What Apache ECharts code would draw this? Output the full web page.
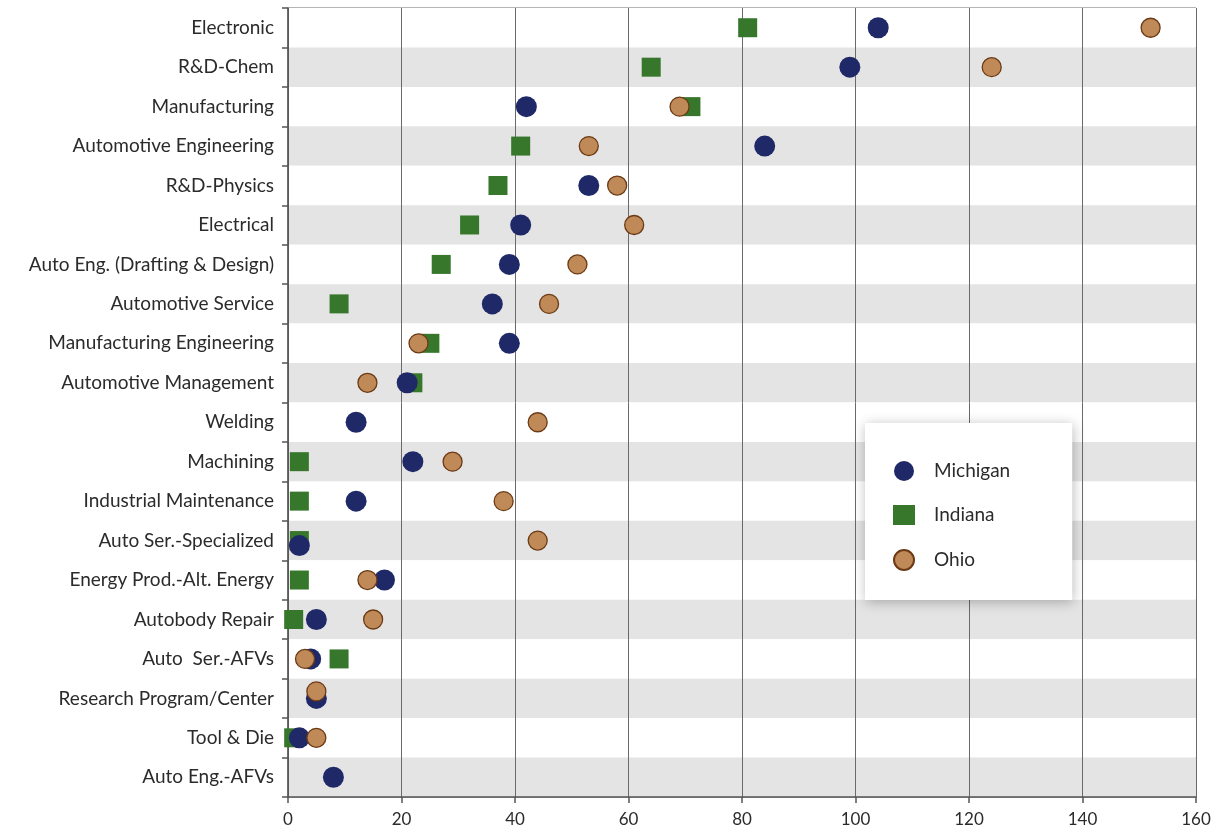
<!DOCTYPE html>
<html>
<head>
<meta charset="utf-8">
<script src="https://cdn.jsdelivr.net/npm/echarts@6/dist/echarts.min.js"></script>
<style>
  html, body { margin: 0; padding: 0; background: #ffffff; }
  #chart { width: 1216px; height: 840px; }
</style>
</head>
<body>
<div id="chart"></div>
<script>
// Programs, listed top to bottom
const categories = [
  'Electronic', 'R&D-Chem', 'Manufacturing', 'Automotive Engineering', 'R&D-Physics',
  'Electrical', 'Auto Eng. (Drafting & Design)', 'Automotive Service',
  'Manufacturing Engineering', 'Automotive Management', 'Welding', 'Machining',
  'Industrial Maintenance', 'Auto Ser.-Specialized', 'Energy Prod.-Alt. Energy',
  'Autobody Repair', 'Auto  Ser.-AFVs', 'Research Program/Center', 'Tool & Die',
  'Auto Eng.-AFVs'
];

// Counts per state (null = no entry)
const michigan = [104, 99, 42, 84, 53, 41, 39, 36, 39, 21, 12, 22, 12, 2, 17, 5, 4, 5, 2, 8];
const indiana  = [81, 64, 71, 41, 37, 32, 27, 9, 25, 22, null, 2, 2, 2, 2, 1, 9, null, 1, null];
const ohio     = [152, 124, 69, 53, 58, 61, 51, 46, 23, 14, 44, 29, 38, 44, 14, 15, 3, 5, 5, null];

const xTicks = [0, 20, 40, 60, 80, 100, 120, 140, 160];

// Small vertical nudges (px) so coincident markers stay visible
const nudges = {
  Michigan: { 'Auto Ser.-Specialized': 5 },
  Ohio: { 'Research Program/Center': -7 }
};

const FONT = 'Lato';

function toPoints(values, name) {
  const pts = [];
  const n = nudges[name] || {};
  values.forEach((v, i) => {
    if (v === null) return;
    const cat = categories[i];
    const item = { value: [v, cat] };
    if (n[cat]) item.symbolOffset = [0, n[cat]];
    pts.push(item);
  });
  return pts;
}

const chart = echarts.init(document.getElementById('chart'), null, { renderer: 'canvas' });

chart.setOption({
  backgroundColor: '#ffffff',
  animation: false,
  grid: {
    left: 288, right: 20, top: 8, bottom: 43,
    show: true, borderColor: '#6a6a6a', borderWidth: 1
  },
  legend: {
    data: ['Michigan', 'Indiana', 'Ohio'],
    orient: 'vertical',
    left: 865, top: 423,
    padding: [38, 62, 29, 28],
    itemGap: 24,
    itemWidth: 22, itemHeight: 20,
    backgroundColor: '#ffffff',
    shadowBlur: 12, shadowColor: 'rgba(0,0,0,0.28)', shadowOffsetX: 1, shadowOffsetY: 2,
    textStyle: { fontFamily: FONT, fontSize: 19, color: '#2b2b2b', padding: [0, 0, 0, 14] }
  },
  xAxis: {
    type: 'value',
    min: xTicks[0], max: xTicks[xTicks.length - 1], interval: 20,
    axisLine: { show: true, lineStyle: { color: '#555555', width: 1.5 } },
    axisTick: { show: true, length: 6, lineStyle: { color: '#555555', width: 1.5 } },
    axisLabel: { fontFamily: FONT, fontSize: 17, color: '#2b2b2b', margin: 14 },
    splitLine: { show: true, lineStyle: { color: '#6a6a6a', width: 1 } }
  },
  yAxis: {
    type: 'category',
    data: categories,
    inverse: true,
    boundaryGap: true,
    axisLine: { show: true, lineStyle: { color: '#555555', width: 1.5 } },
    axisTick: { show: true, length: 6, lineStyle: { color: '#555555', width: 1.5 } },
    axisLabel: { fontFamily: FONT, fontSize: 19, color: '#2b2b2b', margin: 14, padding: [6, 0, 0, 0] },
    splitLine: { show: false },
    splitArea: { show: true, areaStyle: { color: ['#ffffff', '#e4e4e4'] } }
  },
  series: [
    {
      name: 'Indiana', type: 'scatter', symbol: 'rect', symbolSize: 19,
      itemStyle: { color: '#36772b', opacity: 1 },
      data: toPoints(indiana, 'Indiana'), z: 3
    },
    {
      name: 'Michigan', type: 'scatter', symbol: 'circle', symbolSize: 21,
      itemStyle: { color: '#1f2968', opacity: 1 },
      data: toPoints(michigan, 'Michigan'), z: 4
    },
    {
      name: 'Ohio', type: 'scatter', symbol: 'circle', symbolSize: 19,
      itemStyle: { color: '#c08a58', borderColor: '#6b3a14', borderWidth: 1.3, opacity: 1 },
      data: toPoints(ohio, 'Ohio'), z: 5
    }
  ]
});
</script>
</body>
</html>
